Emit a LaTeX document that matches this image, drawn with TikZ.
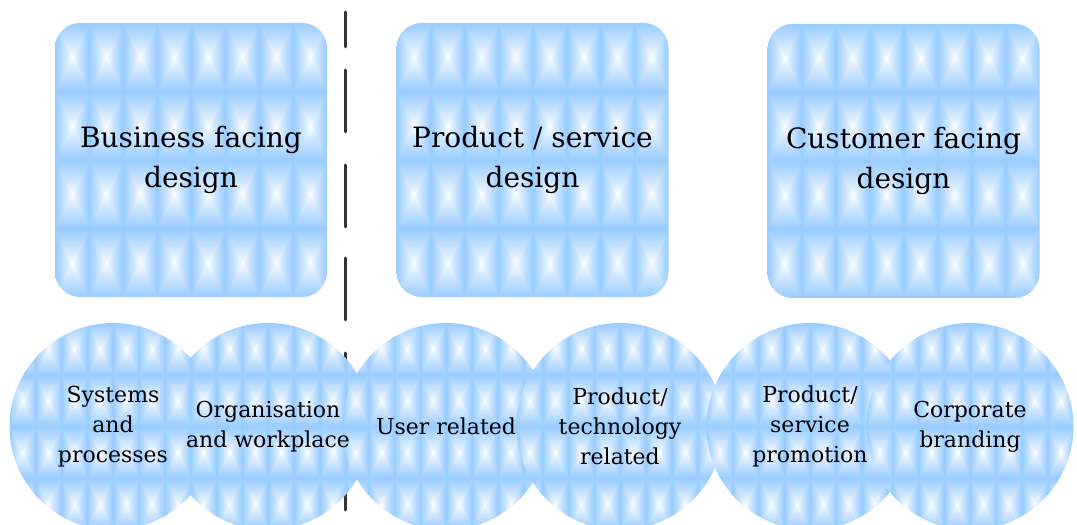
\documentclass[tikz,border=0pt]{standalone}
\usepackage{fontspec}
\setmainfont{DejaVu Serif}
\usetikzlibrary{positioning}

% tiled blue quilt, 8 tiles across and 4 down the filled shape
\pgfdeclarefunctionalshading{quilt}{\pgfpointorigin}{\pgfpoint{100bp}{100bp}}{}{
  12.5 div dup floor sub 0.5 sub abs 2 mul
  exch
  6.25 div dup floor sub 0.5 sub abs 2 mul
  2 copy sub abs add add 2 div
  0.8 exp
  dup 0.2 mul 1 exch sub
  exch 0.4 mul 1 exch sub
  exch 1
}

\begin{document}
\begin{tikzpicture}[
    x=1pt, y=1pt,
    tile/.style = {shading=quilt, align=center, inner sep=0pt, text=black},
    bigbox/.style = {tile, rounded corners=25, minimum width=272, minimum height=274,
      font=\fontsize{28}{40}\selectfont},
    smallcircle/.style = {tile, circle, minimum size=207},
    circletext/.style = {align=center, inner sep=0pt, font=\fontsize{22}{30}\selectfont},
    separator/.style = {draw=black!80, line width=3, line cap=round,
      dash pattern=on 35 off 23 on 62 off 33 on 62 off 31 on 62 off 33 on 62 off 33 on 62 off 33 on 80 off 200}
  ]
  \useasboundingbox (0,0) rectangle (1077,525);

  \coordinate (sep top) at (345,513);
  \coordinate (sep bottom) at (345,8);
  \draw[separator] (sep top) -- (sep bottom);

  \node[bigbox] (business) at (191,365) {Business facing\\design};
  \node[bigbox] (product) at (532.5,365) {Product / service\\design};
  \node[bigbox] (customer) at (903.5,364) {Customer facing\\design};

  \node[smallcircle] (systems) at (113,98.5) {};
  \node[smallcircle] (workplace) at (268,98.5) {};
  \node[smallcircle] (user) at (446,98.5) {};
  \node[smallcircle] (technology) at (620,98.5) {};
  \node[smallcircle] (promotion) at (810,98.5) {};
  \node[smallcircle] (branding) at (970,98.5) {};

  % labels last, so no circle hides them
  \node[circletext] (systems text) at (systems) {Systems\\and\\processes};
  \node[circletext] (workplace text) at (workplace) {Organisation\\and workplace};
  \node[circletext] (user text) at (user) {User related};
  \node[circletext] (technology text) at (technology) {Product/\\technology\\related};
  \node[circletext] (promotion text) at (promotion) {Product/\\service\\promotion};
  \node[circletext] (branding text) at (branding) {Corporate\\branding};
\end{tikzpicture}
\end{document}
